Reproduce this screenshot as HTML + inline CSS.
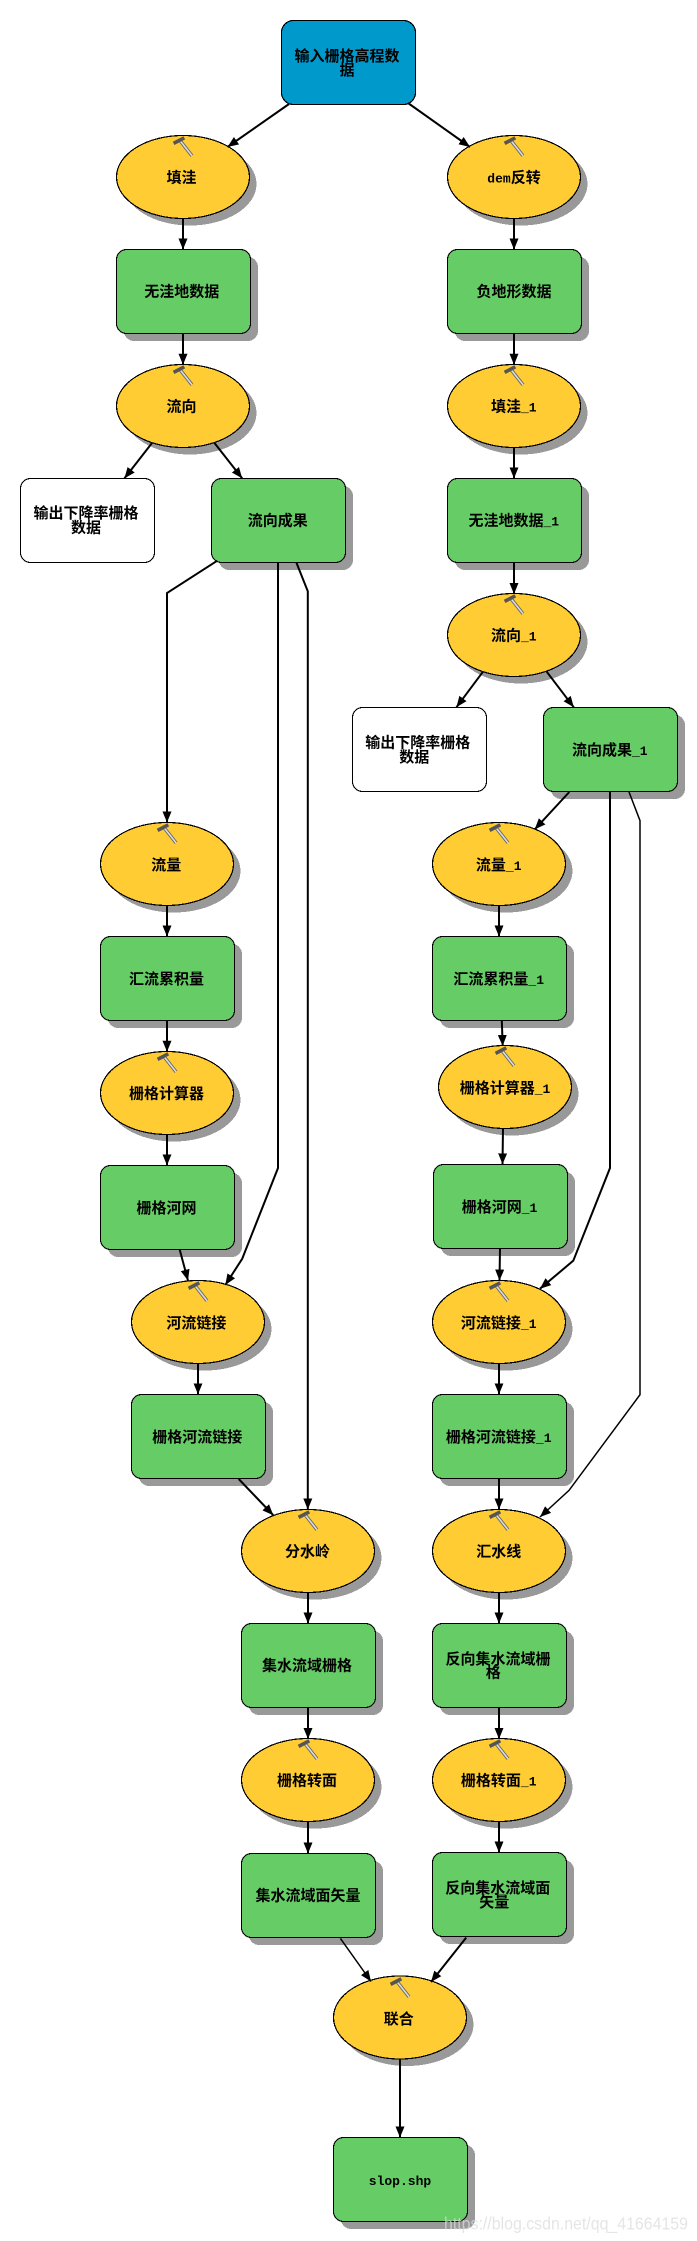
<!DOCTYPE html>
<html><head><meta charset="utf-8"><style>
html,body{margin:0;padding:0;background:#fff}
svg{display:block}
.s{fill:#999;stroke:none}
.r{fill:#66CC66;stroke:#000;stroke-width:1.2}
.e{fill:#FFCC33;stroke:#000;stroke-width:1.2}
.w{fill:#fff;stroke:#000;stroke-width:1.2}
.b{fill:#0099CC;stroke:#000;stroke-width:1.2}
.l{fill:none;stroke:#000;stroke-width:2}
.t{fill:none;stroke:#000;stroke-width:1.5}
.shp{shape-rendering:crispEdges}
text.x{font-family:"WenQuanYi Zen Hei","Noto Sans CJK SC",sans-serif;font-size:15px;font-weight:bold;text-anchor:middle;fill:#000}
text.x tspan{font-family:"Liberation Mono",monospace;font-size:13px}
</style></head><body>
<svg xmlns="http://www.w3.org/2000/svg" width="697" height="2241" viewBox="0 0 697 2241">
<defs>
<marker id="a" markerUnits="userSpaceOnUse" markerWidth="12" markerHeight="10" refX="11" refY="5" orient="auto"><path d="M0,0.5 L11,5 L0,9.5 Z" fill="#000"/></marker>
<g id="h"><path d="M-3.4,4.1 L9,19.8" stroke="#666" stroke-width="3.4" fill="none"/><path d="M-3.4,4.1 L9,19.8" stroke="#ddd" stroke-width="1.6" fill="none"/><path d="M-9.4,7.4 L1.3,1.8" stroke="#555" stroke-width="3.6" fill="none"/></g>
</defs>

<g class="shp">
<!-- shadows: ellipses -->
<ellipse class="s" cx="190" cy="184" rx="66.5" ry="41.5"/>
<ellipse class="s" cx="521" cy="184" rx="66.5" ry="41.5"/>
<ellipse class="s" cx="190" cy="413" rx="66.5" ry="41.5"/>
<ellipse class="s" cx="521" cy="413" rx="66.5" ry="41.5"/>
<ellipse class="s" cx="521" cy="642" rx="66.5" ry="41.5"/>
<ellipse class="s" cx="174" cy="871" rx="66.5" ry="41.5"/>
<ellipse class="s" cx="506" cy="871" rx="66.5" ry="41.5"/>
<ellipse class="s" cx="174" cy="1100" rx="66.5" ry="41.5"/>
<ellipse class="s" cx="512" cy="1094" rx="66.5" ry="41.5"/>
<ellipse class="s" cx="205" cy="1329" rx="66.5" ry="41.5"/>
<ellipse class="s" cx="506" cy="1329" rx="66.5" ry="41.5"/>
<ellipse class="s" cx="315" cy="1558" rx="66.5" ry="41.5"/>
<ellipse class="s" cx="506" cy="1558" rx="66.5" ry="41.5"/>
<ellipse class="s" cx="315" cy="1787" rx="66.5" ry="41.5"/>
<ellipse class="s" cx="506" cy="1787" rx="66.5" ry="41.5"/>
<ellipse class="s" cx="407" cy="2024.5" rx="66.5" ry="41.5"/>
<!-- shadows: rects -->
<rect class="s" x="124" y="257" width="134" height="84" rx="10"/>
<rect class="s" x="455" y="257" width="134" height="84" rx="10"/>
<rect class="s" x="219" y="486" width="134" height="84" rx="10"/>
<rect class="s" x="455" y="486" width="134" height="84" rx="10"/>
<rect class="s" x="551" y="715" width="134" height="84" rx="10"/>
<rect class="s" x="108" y="944" width="134" height="84" rx="10"/>
<rect class="s" x="440" y="944" width="134" height="84" rx="10"/>
<rect class="s" x="108" y="1173" width="134" height="84" rx="10"/>
<rect class="s" x="441" y="1172" width="134" height="84" rx="10"/>
<rect class="s" x="139" y="1402" width="134" height="84" rx="10"/>
<rect class="s" x="440" y="1402" width="134" height="84" rx="10"/>
<rect class="s" x="249" y="1631" width="134" height="84" rx="10"/>
<rect class="s" x="440" y="1631" width="134" height="84" rx="10"/>
<rect class="s" x="249" y="1861" width="134" height="84" rx="10"/>
<rect class="s" x="440" y="1860" width="134" height="84" rx="10"/>
<rect class="s" x="341" y="2145" width="134" height="84" rx="10"/>

<!-- nodes -->
<rect class="b" x="281.5" y="20.5" width="134" height="84" rx="12"/>
<ellipse class="e" cx="183" cy="177" rx="66.5" ry="41.5"/>
<ellipse class="e" cx="514" cy="177" rx="66.5" ry="41.5"/>
<rect class="r" x="116.5" y="249.5" width="134" height="84" rx="10"/>
<rect class="r" x="447.5" y="249.5" width="134" height="84" rx="10"/>
<ellipse class="e" cx="183" cy="406" rx="66.5" ry="41.5"/>
<ellipse class="e" cx="514" cy="406" rx="66.5" ry="41.5"/>
<rect class="w" x="20.5" y="478.5" width="134" height="84" rx="10"/>
<rect class="r" x="211.5" y="478.5" width="134" height="84" rx="10"/>
<rect class="r" x="447.5" y="478.5" width="134" height="84" rx="10"/>
<ellipse class="e" cx="514" cy="635" rx="66.5" ry="41.5"/>
<rect class="w" x="352.5" y="707.5" width="134" height="84" rx="10"/>
<rect class="r" x="543.5" y="707.5" width="134" height="84" rx="10"/>
<ellipse class="e" cx="167" cy="864" rx="66.5" ry="41.5"/>
<ellipse class="e" cx="499" cy="864" rx="66.5" ry="41.5"/>
<rect class="r" x="100.5" y="936.5" width="134" height="84" rx="10"/>
<rect class="r" x="432.5" y="936.5" width="134" height="84" rx="10"/>
<ellipse class="e" cx="167" cy="1093" rx="66.5" ry="41.5"/>
<ellipse class="e" cx="505" cy="1087" rx="66.5" ry="41.5"/>
<rect class="r" x="100.5" y="1165.5" width="134" height="84" rx="10"/>
<rect class="r" x="433.5" y="1164.5" width="134" height="84" rx="10"/>
<ellipse class="e" cx="198" cy="1322" rx="66.5" ry="41.5"/>
<ellipse class="e" cx="499" cy="1322" rx="66.5" ry="41.5"/>
<rect class="r" x="131.5" y="1394.5" width="134" height="84" rx="10"/>
<rect class="r" x="432.5" y="1394.5" width="134" height="84" rx="10"/>
<ellipse class="e" cx="308" cy="1551" rx="66.5" ry="41.5"/>
<ellipse class="e" cx="499" cy="1551" rx="66.5" ry="41.5"/>
<rect class="r" x="241.5" y="1623.5" width="134" height="84" rx="10"/>
<rect class="r" x="432.5" y="1623.5" width="134" height="84" rx="10"/>
<ellipse class="e" cx="308" cy="1780" rx="66.5" ry="41.5"/>
<ellipse class="e" cx="499" cy="1780" rx="66.5" ry="41.5"/>
<rect class="r" x="241.5" y="1853.5" width="134" height="84" rx="10"/>
<rect class="r" x="432.5" y="1852.5" width="134" height="84" rx="10"/>
<ellipse class="e" cx="400" cy="2017.5" rx="66.5" ry="41.5"/>
<rect class="r" x="333.5" y="2137.5" width="134" height="84" rx="10"/>
</g>

<!-- hammers -->
<use href="#h" x="183" y="136"/><use href="#h" x="514" y="136"/>
<use href="#h" x="183" y="365"/><use href="#h" x="514" y="365"/>
<use href="#h" x="514" y="594"/>
<use href="#h" x="167" y="823"/><use href="#h" x="499" y="823"/>
<use href="#h" x="167" y="1052"/><use href="#h" x="505" y="1046"/>
<use href="#h" x="198" y="1281"/><use href="#h" x="499" y="1281"/>
<use href="#h" x="308" y="1510"/><use href="#h" x="499" y="1510"/>
<use href="#h" x="308" y="1739"/><use href="#h" x="499" y="1739"/>
<use href="#h" x="400" y="1977"/>

<!-- connectors -->
<g>
<path class="l" d="M289,104 L227.5,147" marker-end="url(#a)"/>
<path class="l" d="M408,103 L470,147" marker-end="url(#a)"/>
<path class="l" d="M183,218 V249.5" marker-end="url(#a)"/>
<path class="l" d="M514,218 V249.5" marker-end="url(#a)"/>
<path class="l" d="M183,333 V364.7" marker-end="url(#a)"/>
<path class="l" d="M514,333 V364.7" marker-end="url(#a)"/>
<path class="l" d="M152,443 L124.4,478.4" marker-end="url(#a)"/>
<path class="l" d="M214,442.4 L242.2,478.4" marker-end="url(#a)"/>
<path class="l" d="M514,447 V478.4" marker-end="url(#a)"/>
<path class="l" d="M514,562 V594" marker-end="url(#a)"/>
<path class="l" d="M217.3,560.7 L167,593 V822.5" marker-end="url(#a)"/>
<path class="l" d="M278,562 V1168 L242.2,1258.8 L225.3,1285" marker-end="url(#a)"/>
<path class="l" d="M296.4,562.6 L307.8,591.3 V1509.5" marker-end="url(#a)"/>
<path class="l" d="M167,905 V936.5" marker-end="url(#a)"/>
<path class="l" d="M167,1020 V1051.7" marker-end="url(#a)"/>
<path class="l" d="M167,1134 V1165.4" marker-end="url(#a)"/>
<path class="l" d="M179.6,1249.3 L188,1280.6" marker-end="url(#a)"/>
<path class="l" d="M198,1363 V1394.3" marker-end="url(#a)"/>
<path class="l" d="M238.7,1479 L273.3,1515.2" marker-end="url(#a)"/>
<path class="l" d="M308,1592 V1623.5" marker-end="url(#a)"/>
<path class="l" d="M308,1707 V1739" marker-end="url(#a)"/>
<path class="l" d="M308,1821.5 V1853.5" marker-end="url(#a)"/>
<path class="t" d="M340.4,1938.4 L365,1973 L371,1981.5" marker-end="url(#a)"/>
<path class="l" d="M466.2,1937.6 L431,1982" marker-end="url(#a)"/>
<path class="l" d="M400,2059 V2137.5" marker-end="url(#a)"/>
<path class="l" d="M483,671.7 L456.4,707.3" marker-end="url(#a)"/>
<path class="l" d="M546.7,671.7 L573.8,707.3" marker-end="url(#a)"/>
<path class="l" d="M569.3,792 L534.7,829.4" marker-end="url(#a)"/>
<path class="l" d="M610,791 V1168 L573.3,1260.7 L540,1288.7" marker-end="url(#a)"/>
<path class="t" d="M629,792 L640,820.6 V1394.7 L569,1490.4 L540,1517" marker-end="url(#a)"/>
<path class="l" d="M499,905 V936.5" marker-end="url(#a)"/>
<path class="l" d="M501.8,1020.7 L502.7,1046" marker-end="url(#a)"/>
<path class="l" d="M503,1128.3 L502.5,1164.3" marker-end="url(#a)"/>
<path class="l" d="M500,1248 L499.5,1280.6" marker-end="url(#a)"/>
<path class="l" d="M499,1363 V1394.3" marker-end="url(#a)"/>
<path class="l" d="M499,1478 V1509.5" marker-end="url(#a)"/>
<path class="l" d="M499,1592 V1623.5" marker-end="url(#a)"/>
<path class="l" d="M499,1707 V1739" marker-end="url(#a)"/>
<path class="l" d="M499,1821.5 V1852.5" marker-end="url(#a)"/>
</g>

<!-- labels -->
<text class="x" x="347" y="61">输入栅格高程数</text>
<text class="x" x="347" y="75">据</text>
<text class="x" x="181.5" y="182.5">填洼</text>
<text class="x" x="514" y="182.5"><tspan>dem</tspan>反转</text>
<text class="x" x="181.7" y="296.5">无洼地数据</text>
<text class="x" x="514" y="296.5">负地形数据</text>
<text class="x" x="181.5" y="411.5">流向</text>
<text class="x" x="513.8" y="411.5">填洼<tspan>_1</tspan></text>
<text class="x" x="86" y="518">输出下降率栅格</text>
<text class="x" x="86" y="532.5">数据</text>
<text class="x" x="277.8" y="525.5">流向成果</text>
<text class="x" x="513.8" y="525.5">无洼地数据<tspan>_1</tspan></text>
<text class="x" x="513.8" y="640.5">流向<tspan>_1</tspan></text>
<text class="x" x="417.8" y="747.5">输出下降率栅格</text>
<text class="x" x="414.2" y="762">数据</text>
<text class="x" x="609.8" y="755">流向成果<tspan>_1</tspan></text>
<text class="x" x="166.2" y="870">流量</text>
<text class="x" x="498.7" y="870">流量<tspan>_1</tspan></text>
<text class="x" x="166.5" y="984">汇流累积量</text>
<text class="x" x="498.7" y="984">汇流累积量<tspan>_1</tspan></text>
<text class="x" x="166.5" y="1098.5">栅格计算器</text>
<text class="x" x="505" y="1093">栅格计算器<tspan>_1</tspan></text>
<text class="x" x="166.5" y="1213">栅格河网</text>
<text class="x" x="499.5" y="1212">栅格河网<tspan>_1</tspan></text>
<text class="x" x="196.4" y="1327.8">河流链接</text>
<text class="x" x="498.7" y="1327.8">河流链接<tspan>_1</tspan></text>
<text class="x" x="197.3" y="1442">栅格河流链接</text>
<text class="x" x="498.7" y="1442">栅格河流链接<tspan>_1</tspan></text>
<text class="x" x="307.5" y="1556.7">分水岭</text>
<text class="x" x="498.7" y="1556.7">汇水线</text>
<text class="x" x="307" y="1670.5">集水流域栅格</text>
<text class="x" x="498" y="1664">反向集水流域栅</text>
<text class="x" x="493.3" y="1677.5">格</text>
<text class="x" x="307" y="1785.5">栅格转面</text>
<text class="x" x="498.7" y="1785.5">栅格转面<tspan>_1</tspan></text>
<text class="x" x="308" y="1900.5">集水流域面矢量</text>
<text class="x" x="497.8" y="1893">反向集水流域面</text>
<text class="x" x="494.2" y="1907">矢量</text>
<text class="x" x="398.7" y="2024">联合</text>
<text class="x" x="400" y="2185"><tspan>slop.shp</tspan></text>

<text x="444" y="2229.5" font-family="Liberation Sans, sans-serif" font-size="17.5" textLength="244" lengthAdjust="spacingAndGlyphs" fill="#dcdcdc" fill-opacity="0.75">https://blog.csdn.net/qq_41664159</text>
</svg>
</body></html>
